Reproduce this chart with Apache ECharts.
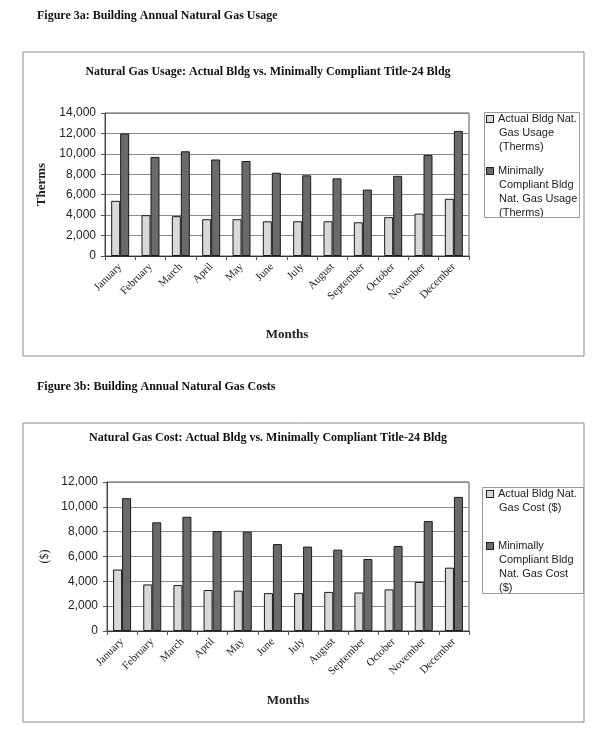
<!DOCTYPE html>
<html>
<head>
<meta charset="utf-8">
<script src="https://cdn.jsdelivr.net/npm/echarts@6/dist/echarts.min.js"></script>
<style>html,body{margin:0;padding:0;background:#fff;}#c{width:608px;height:749px;}</style>
</head>
<body>
<div id="c"></div>
<script>
const months = ['January','February','March','April','May','June','July','August','September','October','November','December'];
const usageActual = [5400, 4000, 3900, 3600, 3600, 3400, 3400, 3400, 3300, 3800, 4150, 5600];
const usageMinimal = [12000, 9700, 10250, 9450, 9300, 8150, 7900, 7600, 6500, 7850, 9900, 12250];
const costActual = [4950, 3750, 3700, 3300, 3250, 3050, 3050, 3150, 3100, 3350, 3950, 5100];
const costMinimal = [10700, 8750, 9200, 8050, 8000, 7000, 6800, 6550, 5800, 6850, 8850, 10800];
const usageTicks = {min: 0, max: 14000, interval: 2000};
const costTicks = {min: 0, max: 12000, interval: 2000};

const names = {
  ua: 'Actual Bldg Nat. Gas Usage (Therms)',
  um: 'Minimally Compliant Bldg Nat. Gas Usage (Therms)',
  ca: 'Actual Bldg Nat. Gas Cost ($)',
  cm: 'Minimally Compliant Bldg Nat. Gas Cost ($)'
};
const legendLines = {};
legendLines[names.ua] = ['Actual Bldg Nat.', 'Gas Usage', '(Therms)'];
legendLines[names.um] = ['Minimally', 'Compliant Bldg', 'Nat. Gas Usage', '(Therms)'];
legendLines[names.ca] = ['Actual Bldg Nat.', 'Gas Cost ($)'];
legendLines[names.cm] = ['Minimally', 'Compliant Bldg', 'Nat. Gas Cost', '($)'];

const SERIF = '"Liberation Serif", "Times New Roman", serif';
const SANS = '"Liberation Sans", Arial, sans-serif';
const LH = 14;
const lightFill = '#d9d9d9';
const darkFill = '#6a6a6a';

const legendRich = {
  ml: {width: 6, height: 6, backgroundColor: lightFill, borderColor: '#222', borderWidth: 1, lineHeight: LH},
  md: {width: 6, height: 6, backgroundColor: darkFill, borderColor: '#222', borderWidth: 1, lineHeight: LH},
  g: {width: 5, lineHeight: LH},
  sp: {width: 12, lineHeight: LH},
  t: {fontFamily: SANS, fontSize: 11, color: '#222', lineHeight: LH}
};

function legendFor(name, centerY, marker) {
  return {
    data: [name], left: 482, top: centerY - LH / 2,
    orient: 'vertical', padding: 0, itemWidth: 0, itemHeight: 0, icon: 'none',
    selectedMode: false,
    formatter: nm => legendLines[nm].map((ln, i) => (i === 0 ? '{' + marker + '|}{g|}' : '{sp|}') + '{t|' + ln + '}').join('\n'),
    textStyle: {fontFamily: SANS, fontSize: 11, lineHeight: LH, color: '#222', rich: legendRich}
  };
}

function xAxisFor(gridIndex, gap) {
  return {
    type: 'category', gridIndex, data: months,
    axisLine: {lineStyle: {color: '#333', width: 1}},
    axisTick: {show: true, length: 4, lineStyle: {color: '#555'}},
    axisLabel: {interval: 0, rotate: 45, margin: 9, fontFamily: SERIF, fontSize: 11, color: '#222'},
    name: 'Months', nameLocation: 'middle', nameGap: gap,
    nameTextStyle: {fontFamily: SERIF, fontSize: 13, fontWeight: 'bold', color: '#222'}
  };
}
function yAxisFor(gridIndex, ticks, name, bold, gap) {
  return {
    type: 'value', gridIndex, min: ticks.min, max: ticks.max, interval: ticks.interval,
    axisLine: {show: true, lineStyle: {color: '#444'}},
    axisTick: {show: true, length: 4, lineStyle: {color: '#555'}},
    axisLabel: {margin: 9, fontFamily: SANS, fontSize: 12, color: '#222'},
    splitLine: {show: true, lineStyle: {color: '#8a8a8a', width: 1}},
    name, nameLocation: 'middle', nameGap: gap,
    nameTextStyle: {fontFamily: SERIF, fontSize: bold ? 13 : 12, fontWeight: bold ? 'bold' : 'normal', color: '#222'}
  };
}
function barSeries(name, data, idx, fill) {
  return {
    type: 'bar', name, data, xAxisIndex: idx, yAxisIndex: idx,
    barWidth: 9, barGap: '0%',
    itemStyle: {color: fill, borderColor: '#1a1a1a', borderWidth: 1},
    emphasis: {disabled: true}, animation: false
  };
}

const chart = echarts.init(document.getElementById('c'), null, {renderer: 'canvas'});
chart.setOption({
  backgroundColor: '#ffffff',
  animation: false,
  title: [
    {text: 'Natural Gas Usage: Actual Bldg vs. Minimally Compliant Title-24 Bldg', left: 268, top: 65, textAlign: 'center', padding: 0,
     textStyle: {fontFamily: SERIF, fontSize: 12, fontWeight: 'bold', color: '#111', lineHeight: 14}},
    {text: 'Natural Gas Cost: Actual Bldg vs. Minimally Compliant Title-24 Bldg', left: 268, top: 431, textAlign: 'center', padding: 0,
     textStyle: {fontFamily: SERIF, fontSize: 12, fontWeight: 'bold', color: '#111', lineHeight: 14}}
  ],
  graphic: [
    {type: 'text', left: 37, top: 10, style: {text: 'Figure 3a: Building Annual Natural Gas Usage', font: 'bold 12px ' + SERIF, fill: '#111'}},
    {type: 'text', left: 37, top: 381, style: {text: 'Figure 3b: Building Annual Natural Gas Costs', font: 'bold 12px ' + SERIF, fill: '#111'}},
    {type: 'rect', shape: {x: 23, y: 52, width: 561, height: 304}, style: {fill: 'none', stroke: '#8a8a8a', lineWidth: 1}, z: -1},
    {type: 'rect', shape: {x: 23, y: 423, width: 561, height: 299}, style: {fill: 'none', stroke: '#8a8a8a', lineWidth: 1}, z: -1},
    {type: 'rect', shape: {x: 484.5, y: 218, width: 96, height: 6}, style: {fill: '#fff'}, z: 100},
    {type: 'rect', shape: {x: 484.5, y: 112.5, width: 95, height: 105}, style: {fill: 'none', stroke: '#999', lineWidth: 1}, z: 101},
    {type: 'rect', shape: {x: 482.5, y: 487.5, width: 101, height: 106}, style: {fill: 'none', stroke: '#999', lineWidth: 1}, z: 101}
  ],
  legend: [
    legendFor(names.ua, 119, 'ml'),
    legendFor(names.um, 171, 'md'),
    legendFor(names.ca, 494, 'ml'),
    legendFor(names.cm, 546, 'md')
  ],
  grid: [
    {left: 105, top: 113, width: 364, height: 143, show: true, borderColor: '#555', borderWidth: 1, backgroundColor: 'transparent'},
    {left: 107, top: 482, width: 362, height: 149, show: true, borderColor: '#555', borderWidth: 1, backgroundColor: 'transparent'}
  ],
  xAxis: [xAxisFor(0, 72), xAxisFor(1, 63)],
  yAxis: [yAxisFor(0, usageTicks, 'Therms', true, 44), yAxisFor(1, costTicks, '($)', false, 46)],
  series: [
    barSeries(names.ua, usageActual, 0, lightFill),
    barSeries(names.um, usageMinimal, 0, darkFill),
    barSeries(names.ca, costActual, 1, lightFill),
    barSeries(names.cm, costMinimal, 1, darkFill)
  ]
});
</script>
</body>
</html>
